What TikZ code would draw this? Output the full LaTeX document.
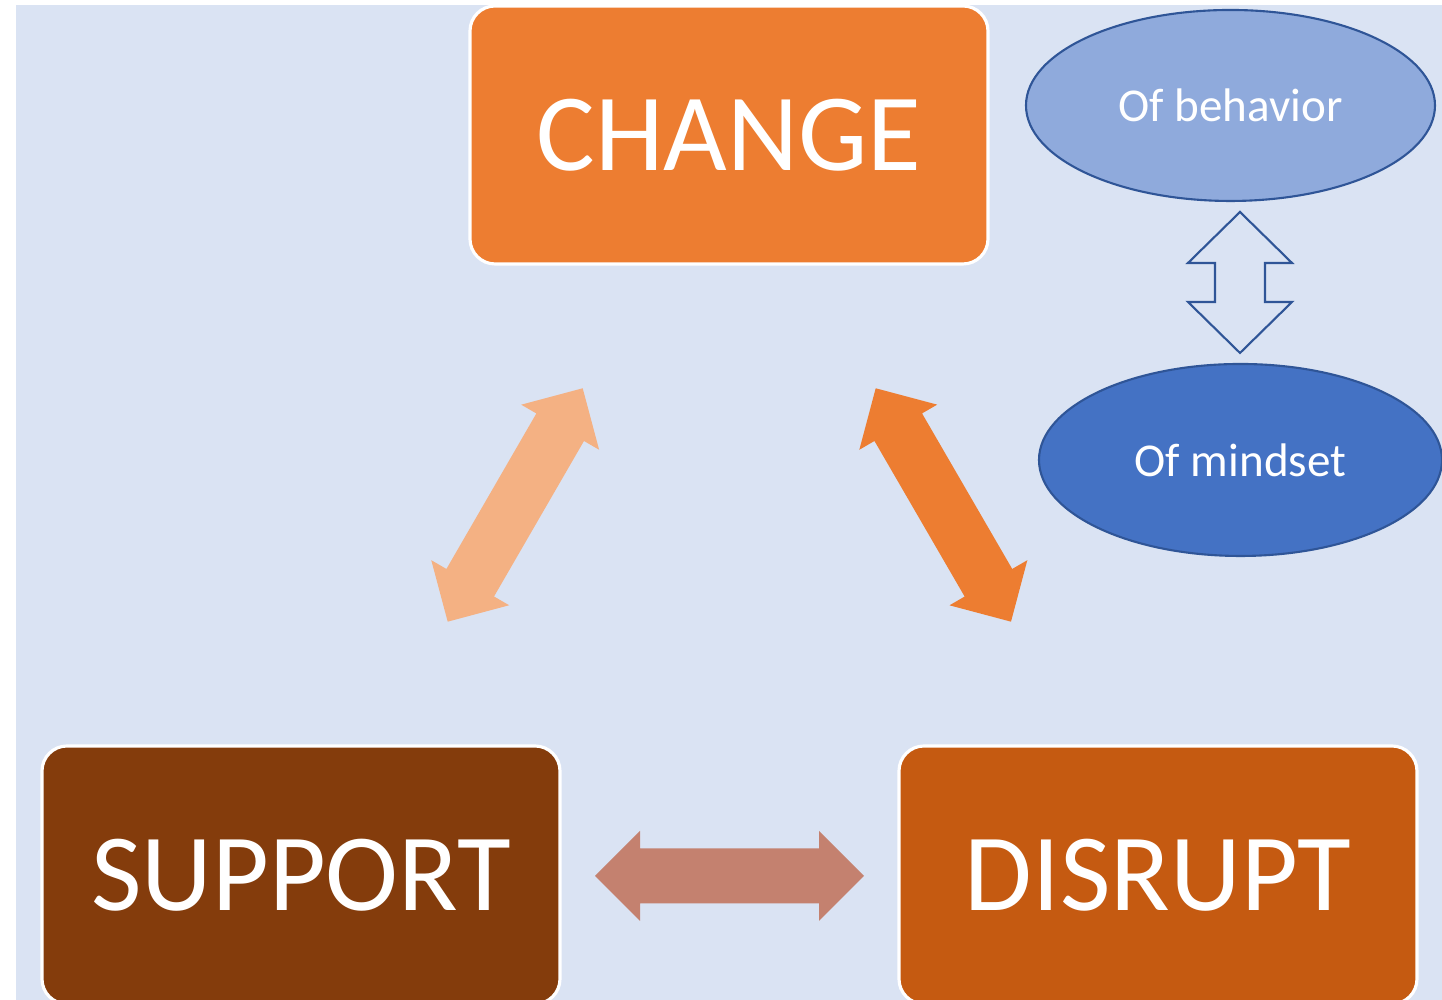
\documentclass[tikz,border=0pt]{standalone}
\usepackage{fontspec}
\setmainfont{Carlito}
\usetikzlibrary{positioning,calc,shapes.geometric}
\definecolor{bgblue}{HTML}{DAE3F3}
\definecolor{chg}{HTML}{ED7D31}
\definecolor{sup}{HTML}{843C0C}
\definecolor{dis}{HTML}{C55A11}
\definecolor{ovlight}{HTML}{8FAADC}
\definecolor{ovdark}{HTML}{4472C4}
\definecolor{ovline}{HTML}{2F5597}
\definecolor{arrlight}{HTML}{F4B183}
\definecolor{arrbrown}{HTML}{C4816F}
\tikzset{box/.style={draw=white, line width=0.9pt, rounded corners=0.25cm, minimum width=5.18cm, minimum height=2.58cm, inner sep=0pt, text=white, font=\fontsize{31.3}{36}\selectfont}}
\tikzset{oval/.style={ellipse, draw=ovline, line width=0.6pt, inner sep=0pt, text=white, font=\fontsize{13.4}{16}\selectfont}}
\tikzset{blk/.style={fill=#1, draw=none}}
\tikzset{hollow/.style={draw=ovline, line width=0.6pt, fill=bgblue, line join=miter}}
% #1 style, #2 from, #3 to, #4 head length, #5 half head, #6 half shaft
\newcommand{\dblarr}[6]{%
  \path ($(#2)!#4!(#3)$) coordinate (ha) ($(#3)!#4!(#2)$) coordinate (hb);
  \draw[#1] (#2) -- ($(ha)!#5!90:(#2)$) -- ($(ha)!#6!90:(#2)$) -- ($(hb)!#6!-90:(#3)$) -- ($(hb)!#5!-90:(#3)$) -- (#3)
    -- ($(hb)!#5!90:(#3)$) -- ($(hb)!#6!90:(#3)$) -- ($(ha)!#6!-90:(#2)$) -- ($(ha)!#5!-90:(#2)$) -- cycle;}

\begin{document}
\begin{tikzpicture}
		\useasboundingbox (0,0) rectangle (14.42,10);
		\clip (0,0) rectangle (14.42,10);
		\fill[bgblue] (0.16,0) rectangle (14.42,9.95);
%
		\node[box, fill=chg] (change) at (7.29,8.65) {CHANGE};
		\node[box, fill=sup] (support) at (3.01,1.25) {SUPPORT};
		\node[box, fill=dis] (disrupt) at (11.58,1.25) {DISRUPT};
		\node[oval, fill=ovlight, minimum width=4.09cm, minimum height=1.91cm] (beh) at (12.305,8.945) {Of behavior};
		\node[oval, fill=ovdark, minimum width=4.03cm, minimum height=1.92cm] (mind) at (12.405,5.40) {Of mindset};
%
		\coordinate (sc) at (4.477,3.783);
		\coordinate (cs) at (5.827,6.117);
		\coordinate (cd) at (8.757,6.117);
		\coordinate (dc) at (10.11,3.783);
		\coordinate (sd) at (5.95,1.24);
		\coordinate (ds) at (8.64,1.24);
		\coordinate (bm) at (12.40,7.88);
		\coordinate (mb) at (12.40,6.47);
		\dblarr{blk=arrlight}{sc}{cs}{0.45cm}{0.45cm}{0.275cm}
		\dblarr{blk=chg}{cd}{dc}{0.45cm}{0.45cm}{0.275cm}
		\dblarr{blk=arrbrown}{sd}{ds}{0.45cm}{0.45cm}{0.275cm}
		\dblarr{hollow}{bm}{mb}{0.51cm}{0.52cm}{0.25cm}
	\end{tikzpicture}
\end{document}
